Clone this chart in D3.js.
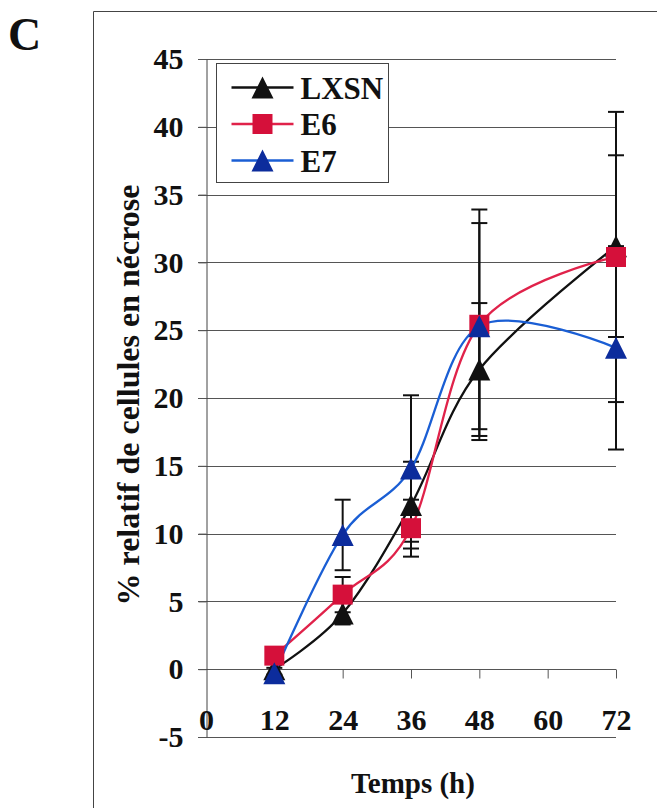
<!DOCTYPE html>
<html>
<head>
<meta charset="utf-8">
<script src="https://cdn.jsdelivr.net/npm/d3@7"></script>
<style>
  body { margin: 0; background: #fff; }
  text { font-family: "Liberation Serif", "Times New Roman", serif; font-weight: bold; fill: #111; }
</style>
</head>
<body>
<div class="chart"></div>
<script>
var svg_width = 657;
var svg_height = 808;

// Data
var hours = [12, 24, 36, 48, 72];
var seriesNames = ["LXSN", "E6", "E7"];
var lxsn = [0, 4.1, 12.1, 22.1, 31.2];
var lxsnErr = [0.4, 0.8, 3.2, 4.9, 6.7];
var e6 = [1.0, 5.5, 10.4, 25.4, 30.4];
var e6Err = [0.5, 1.3, 2.1, 8.5, 10.7];
var e7 = [-0.3, 9.9, 14.8, 25.3, 23.7];
var e7Err = [0.4, 2.6, 5.4, 7.6, 7.5];
var xTicks = [0, 12, 24, 36, 48, 60, 72];
var yTicks = [-5, 0, 5, 10, 15, 20, 25, 30, 35, 40, 45];

var series = [
	{ name: seriesNames[0], values: lxsn, err: lxsnErr, line: "#111", fill: "#111", shape: "triangle" },
	{ name: seriesNames[1], values: e6, err: e6Err, line: "#e0224a", fill: "#d5103a", shape: "square" },
	{ name: seriesNames[2], values: e7, err: e7Err, line: "#1a5ed4", fill: "#0c2c9c", shape: "triangle" }
];

var svg = d3.select(".chart")
	.append("svg")
	.attr("width", svg_width)
	.attr("height", svg_height);

// scales
var xScale = d3.scaleLinear().domain([0, 72]).range([206, 616]);
var yScale = d3.scaleLinear().domain([-5, 45]).range([737, 59]);

// outer frame (top and left edge of the scanned box)
svg.append("path")
	.attr("d", "M93.5,808V11.5H657")
	.attr("fill", "none")
	.attr("stroke", "#444")
	.attr("stroke-width", 1);

// panel letter
svg.append("text")
	.attr("x", 8)
	.attr("y", 50)
	.style("font-size", "46px")
	.text("C");

// gridlines
svg.append("g")
	.selectAll("line")
	.data(yTicks)
	.enter()
	.append("line")
	.attr("x1", 198)
	.attr("x2", 616)
	.attr("y1", d => Math.round(yScale(d)) + 0.5)
	.attr("y2", d => Math.round(yScale(d)) + 0.5)
	.attr("stroke", "#555")
	.attr("stroke-width", 1);

// y axis
var left_axis = d3.axisLeft(yScale)
	.tickValues(yTicks)
	.tickFormat(d => String(d))
	.tickSizeInner(8)
	.tickSizeOuter(0)
	.tickPadding(15);

var yAxisG = svg.append("g")
	.attr("transform", "translate(206.5,0)")
	.call(left_axis);
yAxisG.select(".domain").attr("stroke", "#444");
yAxisG.selectAll(".tick line").attr("stroke", "#555");
yAxisG.selectAll("text")
	.attr("fill", "#111")
	.style("font-size", "30px")
	.style("font-family", "Liberation Serif, serif");

// x axis sits on the zero line, labels below
var bottom_axis = d3.axisBottom(xScale)
	.tickValues(xTicks)
	.tickFormat(d => String(d))
	.tickSizeInner(9)
	.tickSizeOuter(0)
	.tickPadding(30);

var xAxisG = svg.append("g")
	.attr("transform", `translate(0,${Math.round(yScale(0)) + 0.5})`)
	.call(bottom_axis);
xAxisG.select(".domain").remove();
xAxisG.selectAll(".tick line").attr("stroke", "#555");
xAxisG.selectAll(".tick").filter(d => d === 0).select("line").remove();
xAxisG.selectAll("text")
	.attr("fill", "#111")
	.style("font-size", "30px")
	.style("font-family", "Liberation Serif, serif");

// axis titles
svg.append("text")
	.attr("transform", `translate(139, ${(59 + 737) / 2 - 3}) rotate(-90)`)
	.attr("text-anchor", "middle")
	.style("font-size", "32px")
	.text("% relatif de cellules en nécrose");

svg.append("text")
	.attr("x", 413)
	.attr("y", 793)
	.attr("text-anchor", "middle")
	.style("font-size", "29px")
	.text("Temps (h)");

// error bars
var capW = 8;
series.forEach(function(s) {
	var g = svg.append("g").attr("class", "err");
	var rows = hours.map((h, i) => ({ x: h, y: s.values[i], e: s.err[i] }));
	g.selectAll("line.v")
		.data(rows)
		.enter()
		.append("line")
		.attr("x1", d => xScale(d.x))
		.attr("x2", d => xScale(d.x))
		.attr("y1", d => yScale(d.y + d.e))
		.attr("y2", d => yScale(d.y - d.e))
		.attr("stroke", "#111")
		.attr("stroke-width", 2);
	[1, -1].forEach(function(sign) {
		g.selectAll("line.c" + sign)
			.data(rows)
			.enter()
			.append("line")
			.attr("x1", d => xScale(d.x) - capW)
			.attr("x2", d => xScale(d.x) + capW)
			.attr("y1", d => yScale(d.y + sign * d.e))
			.attr("y2", d => yScale(d.y + sign * d.e))
			.attr("stroke", "#111")
			.attr("stroke-width", 2);
	});
});

// smoothed lines (Excel-like smoothing)
var lineGen = d3.line()
	.x(d => xScale(d[0]))
	.y(d => yScale(d[1]))
	.curve(d3.curveCardinal.tension(0));

function markerPath(shape) {
	if (shape === "square") return "M-10,-10H10V10H-10Z";
	return "M0,-11L11,11H-11Z";
}

series.forEach(function(s) {
	svg.append("path")
		.datum(hours.map((h, i) => [h, s.values[i]]))
		.attr("d", lineGen)
		.attr("fill", "none")
		.attr("stroke", s.line)
		.attr("stroke-width", 2.3);
});

series.forEach(function(s) {
	svg.append("g")
		.selectAll("path")
		.data(hours.map((h, i) => [h, s.values[i]]))
		.enter()
		.append("path")
		.attr("transform", d => `translate(${xScale(d[0])},${yScale(d[1])})`)
		.attr("d", markerPath(s.shape))
		.attr("fill", s.fill);
});

// legend
var legend = svg.append("g").attr("transform", "translate(216.5,63.5)");
legend.append("rect")
	.attr("width", 172)
	.attr("height", 119)
	.attr("fill", "#fff")
	.attr("stroke", "#444")
	.attr("stroke-width", 1);

var items = legend.selectAll("g.item")
	.data(series)
	.enter()
	.append("g")
	.attr("transform", (d, i) => `translate(0, ${24 + i * 36.5})`);
items.append("line")
	.attr("x1", 15)
	.attr("x2", 77)
	.attr("stroke", d => d.line)
	.attr("stroke-width", 2.3);
items.append("path")
	.attr("transform", "translate(46,0)")
	.attr("d", d => markerPath(d.shape))
	.attr("fill", d => d.fill);
items.append("text")
	.attr("x", 84)
	.attr("y", 11)
	.style("font-size", "31px")
	.text(d => d.name);
</script>
</body>
</html>
